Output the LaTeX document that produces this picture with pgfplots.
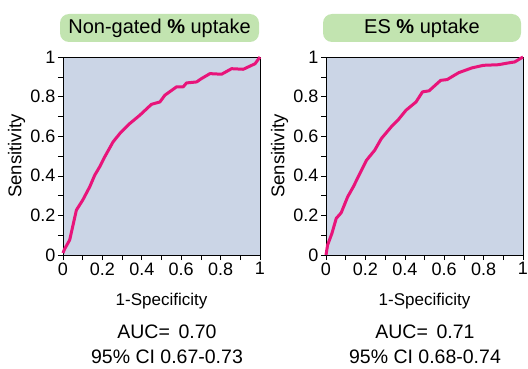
\documentclass[border=0pt]{standalone}
\usepackage{pgfplots}
\pgfplotsset{compat=1.18}
\usepackage{fontspec}
\setmainfont{Liberation Sans}
\definecolor{curve}{RGB}{232,20,122}
\definecolor{bgblue}{RGB}{203,213,230}
\definecolor{boxgreen}{RGB}{194,228,176}
\pgfplotsset{
  rocax/.style={
    width=197pt, height=198pt, scale only axis,
    xmin=0, xmax=1, ymin=0, ymax=1,
    axis background/.style={fill=bgblue},
    axis line style={black, line width=0.6pt},
    tick align=outside, major tick length=5pt, minor tick length=5pt,
    tick style={black, line width=0.6pt},
    xtick={0,0.2,0.4,0.6,0.8,1}, xticklabels={0,0.2,0.4,0.6,0.8,1},
    ytick={0,0.2,0.4,0.6,0.8,1}, yticklabels={0,0.2,0.4,0.6,0.8,1},
    minor xtick={0.1,0.3,0.5,0.7,0.9}, minor ytick={0.1,0.3,0.5,0.7,0.9},
    xtick pos=bottom, ytick pos=left,
    ticklabel style={font=\fontsize{18}{20}\selectfont},
    xticklabel style={yshift=1pt},
    yticklabel style={xshift=1pt},
    xlabel={1-Specificity},
    ylabel={Sensitivity},
    xlabel style={font=\fontsize{17}{19}\selectfont, at={(rel axis cs:0.5,-0.175)}, anchor=north},
    ylabel style={font=\fontsize{18.5}{20}\selectfont, at={(rel axis cs:-0.235,0.5)}, anchor=center},
    clip=false,
  }
}
\begin{document}
\begin{tikzpicture}
\useasboundingbox (0pt,0pt) rectangle (528pt,-369pt);
% left
\begin{axis}[rocax, at={(63pt,-255pt)}, anchor=south west]
\addplot[curve, line width=3pt, line join=round] coordinates {
(0,0.01) (0.008,0.03) (0.034,0.076) (0.068,0.227) (0.10,0.277) (0.136,0.345)
(0.161,0.403) (0.186,0.445) (0.212,0.496) (0.254,0.571) (0.288,0.613)
(0.339,0.664) (0.39,0.706) (0.449,0.761) (0.492,0.773) (0.517,0.807)
(0.576,0.849) (0.61,0.849) (0.627,0.869) (0.678,0.874) (0.703,0.891)
(0.746,0.916) (0.805,0.913) (0.856,0.941) (0.915,0.938) (0.975,0.966) (1,1)};
\end{axis}
% right
\begin{axis}[rocax, at={(326pt,-255pt)}, anchor=south west]
\addplot[curve, line width=3pt, line join=round] coordinates {
(0,0) (0.008,0.05) (0.03,0.109) (0.052,0.185) (0.077,0.213) (0.11,0.294)
(0.139,0.345) (0.172,0.412) (0.206,0.479) (0.247,0.529) (0.281,0.588)
(0.331,0.647) (0.365,0.681) (0.406,0.731) (0.457,0.773) (0.49,0.824)
(0.523,0.829) (0.582,0.882) (0.615,0.886) (0.674,0.921) (0.741,0.945)
(0.799,0.958) (0.875,0.961) (0.925,0.97) (0.958,0.975) (1,1)};
\end{axis}
% title boxes
\node[fill=boxgreen, rounded corners=9pt, minimum width=199pt, minimum height=28pt, inner sep=0pt,
  font=\fontsize{20}{22}\selectfont] at (159.5pt,-28pt) {Non-gated \textbf{\%} uptake};
\node[fill=boxgreen, rounded corners=9pt, minimum width=198pt, minimum height=28pt, inner sep=0pt,
  font=\fontsize{20}{22}\selectfont] at (422pt,-28pt) {ES \textbf{\%} uptake};
% AUC text
\node[font=\fontsize{19.5}{22}\selectfont] at (167pt,-332pt) {AUC=\, 0.70};
\node[font=\fontsize{19.5}{22}\selectfont] at (167pt,-357pt) {95\% CI 0.67-0.73};
\node[font=\fontsize{19.5}{22}\selectfont] at (425pt,-332pt) {AUC=\, 0.71};
\node[font=\fontsize{19.5}{22}\selectfont] at (425pt,-357pt) {95\% CI 0.68-0.74};
\end{tikzpicture}
\end{document}
